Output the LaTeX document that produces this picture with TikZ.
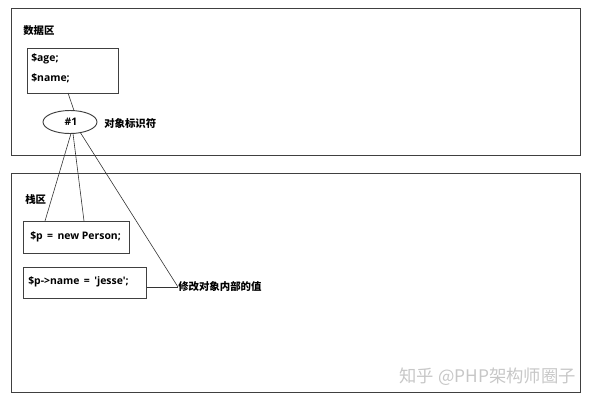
\documentclass[tikz,border=0pt]{standalone}
\usepackage{fontspec}
\setmainfont{Open Sans}
\newfontfamily\cjk{Noto Sans CJK SC}
\begin{document}
\begin{tikzpicture}[x=0.75pt,y=-0.75pt,
  every node/.style={inner sep=0pt,font=\fontsize{7.8}{9}\selectfont\bfseries},
  zone/.style={draw=black!75,line width=0.7pt},
  vbox/.style={draw=black!75,line width=0.7pt,anchor=north west},
  link/.style={draw=black!80,line width=0.45pt},
  lbl/.style={anchor=west}]
\useasboundingbox (0,0) rectangle (591,405);
% zones
\draw[zone] (11,8) rectangle (580,155);
\draw[zone] (11,173) rectangle (580,392);
\node[lbl] (dataT) at (23,31) {\cjk 数据区};
\node[lbl] (stackT) at (25,200) {\cjk 栈区};
% data box
\node[vbox,minimum width=68.25pt,minimum height=33.75pt] (data) at (27,48) {};
\node[lbl] (age) at (31,59) {\$age;};
\node[lbl] (name) at (31,78) {\$name;};
% ellipse
\draw[vbox] (70,122) ellipse [x radius=27,y radius=11.5];
\node (id) at (71,122) {\#1};
\coordinate (etop) at (74,110.5);
\coordinate (eb1) at (71,133.5);
\coordinate (eb2) at (73,133.5);
\coordinate (eb3) at (80,132);
\node[lbl] (idT) at (104,124) {\cjk 对象标识符};
% stack boxes
\node[vbox,minimum width=79.5pt,minimum height=24pt] (pbox) at (23,221) {};
\node[lbl] (pT) at (30,237) {\$p \,=\, new Person;};
\node[vbox,minimum width=92.25pt,minimum height=23.25pt] (qbox) at (23,267) {};
\node[lbl] (qT) at (28,282) {\$p->name \,=\, \textquotesingle jesse\textquotesingle;};
\node[lbl] (modT) at (178,287) {\cjk 修改对象内部的值};
% connectors
\draw[link] (68,93) -- (etop);
\draw[link] (eb1) -- (45,221);
\draw[link] (eb2) -- (84,221);
\draw[link] (eb3) -- (modT.west);
\draw[link] (qbox.east|-modT.west) -- (modT.west);
% watermark
\node[anchor=east,text=black!22,font=\fontsize{13}{15}\selectfont\cjk] (wm) at (576,377) {知乎 @PHP架构师圈子};
\end{tikzpicture}
\end{document}
